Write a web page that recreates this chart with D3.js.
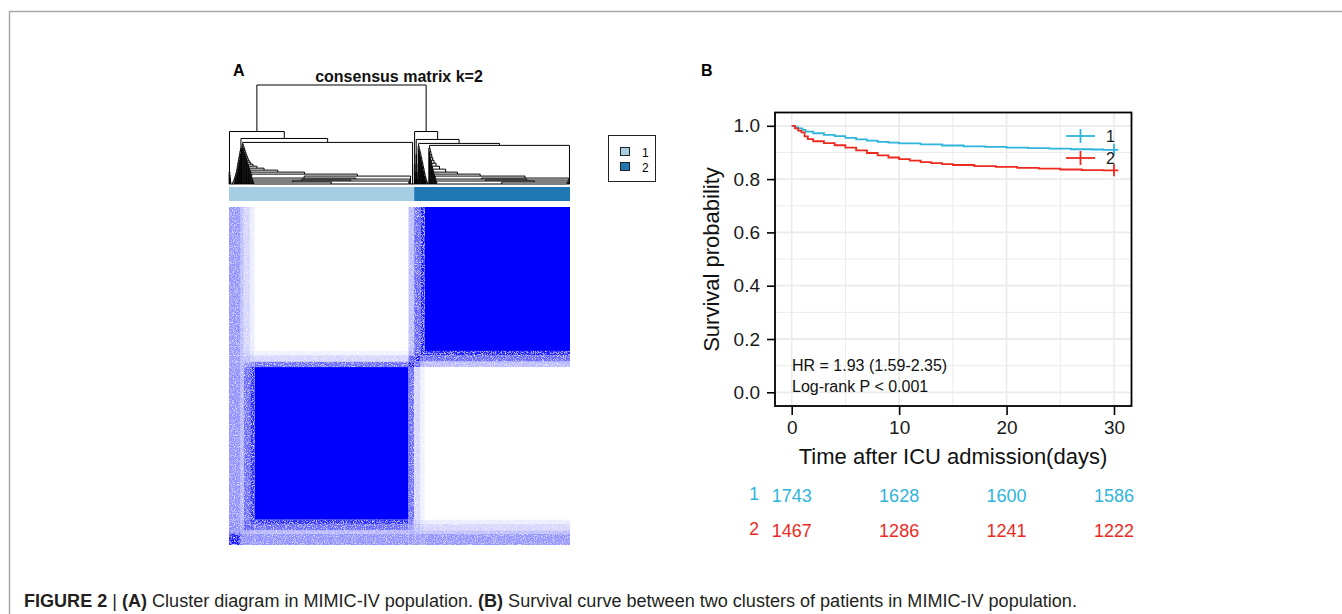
<!DOCTYPE html>
<html>
<head>
<meta charset="utf-8">
<script src="https://cdn.jsdelivr.net/npm/d3@7"></script>
<style>
  body { margin: 0; background: #fff; }
  svg { display: block; font-family: "Liberation Sans", Arial, sans-serif; }
</style>
</head>
<body>
<div id="fig"></div>
<script>
// ---- panel A data ----
var clusterNames = ["1", "2"];
var clusterSizes = [1743, 1467];
var clusterColors = ["#a6cee3", "#1f78b4"];

// consensus blocks in sample order: edge, edge, mixed, mixed, core 1, border 1, border 2, mixed, core 2
var blockSizes = [110, 30, 60, 40, 1450, 53, 60, 40, 1367];
var blockConsensus = [
  [0.90, 0.48, 0.45, 0.44, 0.43, 0.42, 0.40, 0.40, 0.42],
  [0.48, 0.45, 0.36, 0.34, 0.30, 0.32, 0.30, 0.28, 0.27],
  [0.45, 0.36, 0.65, 0.62, 0.58, 0.42, 0.26, 0.20, 0.17],
  [0.44, 0.34, 0.62, 0.85, 0.84, 0.52, 0.20, 0.12, 0.08],
  [0.43, 0.30, 0.58, 0.84, 1.00, 0.58, 0.17, 0.06, 0.00],
  [0.42, 0.32, 0.42, 0.52, 0.58, 0.88, 0.62, 0.32, 0.27],
  [0.40, 0.30, 0.26, 0.20, 0.17, 0.62, 0.88, 0.65, 0.60],
  [0.40, 0.28, 0.20, 0.12, 0.06, 0.32, 0.65, 0.92, 0.88],
  [0.42, 0.27, 0.17, 0.08, 0.00, 0.27, 0.60, 0.88, 1.00]
];

// dendrogram chains: leaf group sizes, merge heights (outermost first), side of the leaf, tail group
var chainE = { sizes: [3, 3, 3, 3], heights: [0.12, 0.09, 0.06, 0.03], sides: "LLLL", tail: 8 };
var chainD1 = { sizes: [5, 5, 5, 5, 5, 5, 5, 5, 5, 5, 5, 5, 5, 5],
  heights: [0.36, 0.33, 0.30, 0.27, 0.24, 0.21, 0.18, 0.15, 0.12, 0.10, 0.08, 0.06, 0.04, 0.02],
  sides: "RRRRRRRRRRRRRR", tail: 30 };
var chainX = { sizes: [6, 6, 6, 6, 6, 6, 6, 6, 6, 6, 6, 6, 6, 6, 6, 8, 8, 6, 8, 6, 8, 6],
  heights: [0.40, 0.38, 0.36, 0.34, 0.32, 0.30, 0.28, 0.26, 0.24, 0.22, 0.20, 0.18, 0.16, 0.14, 0.12, 0.10, 0.08, 0.06, 0.05, 0.04, 0.03, 0.02],
  sides: "LLLLLLLLLLLLLLLLRLRLRL", tail: 1453 };
var border1 = 30;
var chainG = { sizes: [3, 3, 3], heights: [0.20, 0.12, 0.05], sides: "LLL", tail: 6 };
var chainH1 = { sizes: [3, 3, 3, 3], heights: [0.30, 0.20, 0.12, 0.05], sides: "LLLL", tail: 8 };
var chainH = { sizes: [5, 5, 5, 5, 5, 5, 5, 5, 5, 5, 5, 5, 5, 5, 5, 5],
  heights: [0.38, 0.35, 0.33, 0.31, 0.28, 0.26, 0.23, 0.21, 0.18, 0.16, 0.13, 0.11, 0.08, 0.06, 0.04, 0.02],
  sides: "LLLLLLLLLLLLLLLL", tail: 20 };
var chainC2 = { sizes: [6, 6, 6, 6, 6, 6, 6, 6, 6, 6, 8, 8, 6, 8, 6, 8],
  heights: [0.36, 0.33, 0.30, 0.27, 0.24, 0.21, 0.18, 0.15, 0.12, 0.10, 0.08, 0.06, 0.05, 0.04, 0.03, 0.02],
  sides: "LLLLLLLLLLLRLRLR", tail: 1220 };
var lastGroup = 6;
var mergeHeights = { root: 1.0, c1: 0.53, c1b: 0.46, c1c: 0.42, c2: 0.53, c2b: 0.45, c2c: 0.41, c2d: 0.39 };

// ---- panel B data ----
var timeTicks = [0, 10, 20, 30];
var survTicks = [0, 0.2, 0.4, 0.6, 0.8, 1.0];
var groups = ["1", "2"];
var groupColors = ["#2fb4dc", "#ec2a1f"];
var time1 = [0, 0.3, 0.6, 1.0, 1.3, 2, 3, 4, 5, 6, 7, 8, 9, 10, 12, 14, 16, 18, 20, 22, 24, 26, 28, 29, 30.4];
var surv1 = [1.0, 0.995, 0.99, 0.985, 0.978, 0.972, 0.966, 0.961, 0.955, 0.949, 0.944, 0.940, 0.937, 0.934, 0.930, 0.926, 0.923, 0.921, 0.918, 0.916, 0.914, 0.912, 0.911, 0.910, 0.910];
var time2 = [0, 0.3, 0.6, 0.9, 1.2, 1.5, 2, 3, 4, 5, 6, 7, 8, 9, 10, 11, 12, 13, 14, 15, 17, 19, 21, 23, 25, 27, 29, 30.4];
var surv2 = [1.0, 0.99, 0.982, 0.975, 0.96, 0.95, 0.942, 0.935, 0.927, 0.918, 0.908, 0.898, 0.889, 0.881, 0.875, 0.869, 0.864, 0.860, 0.856, 0.853, 0.849, 0.846, 0.842, 0.839, 0.836, 0.834, 0.833, 0.833];
var atRisk1 = [1743, 1628, 1600, 1586];
var atRisk2 = [1467, 1286, 1241, 1222];
var hrText = "HR = 1.93 (1.59-2.35)";
var pText = "Log-rank P < 0.001";

var W = 1342, H = 614;
var svg = d3.select("#fig").append("svg").attr("width", W).attr("height", H);

// frame
svg.append("path").attr("d", "M9.5,614V11.5H1342").attr("fill", "none").attr("stroke", "#a8a8a8").attr("stroke-width", 1.5);

// ================= Panel A =================
var total = d3.sum(clusterSizes);
var xA = d3.scaleLinear().domain([0, total]).range([229, 570]);
var yRow = d3.scaleLinear().domain([0, total]).range([545, 207]);
var fillC = d3.interpolateRgb("#ffffff", "#0000ff");

svg.append("text").attr("x", 233).attr("y", 76).attr("font-weight", "bold").attr("font-size", 16).text("A");
svg.append("text").attr("x", 399).attr("y", 82).attr("text-anchor", "middle").attr("font-weight", "bold")
  .attr("font-size", 16).attr("fill", "#111").text("consensus matrix k=2");

// light speckle texture for the partly-consensual blocks
var filt = svg.append("defs").append("filter").attr("id", "speckle")
  .attr("filterUnits", "userSpaceOnUse").attr("x", 229).attr("y", 207).attr("width", 341).attr("height", 338);
filt.append("feTurbulence").attr("type", "fractalNoise").attr("baseFrequency", 0.9).attr("numOctaves", 2).attr("seed", 4).attr("result", "n");
filt.append("feColorMatrix").attr("in", "n").attr("type", "matrix")
  .attr("values", "0 0 0 0 1  0 0 0 0 1  0 0 0 0 1  2.2 0 0 0 -1.05").attr("result", "w");
filt.append("feComposite").attr("in", "w").attr("in2", "SourceGraphic").attr("operator", "in").attr("result", "wi");
var fm = filt.append("feMerge");
fm.append("feMergeNode").attr("in", "SourceGraphic");
fm.append("feMergeNode").attr("in", "wi");

// heatmap
var starts = [];
blockSizes.reduce(function (a, n) { starts.push(a); return a + n; }, 0);
var cells = [];
blockSizes.forEach(function (ni, i) {
  blockSizes.forEach(function (nj, j) { cells.push({ i: i, j: j, v: blockConsensus[i][j] }); });
});
var hmSolid = svg.append("g"), hmMixed = svg.append("g").attr("filter", "url(#speckle)");
cells.forEach(function (c) {
  var g = (c.v > 0.02 && c.v < 0.95) ? hmMixed : hmSolid;
  g.append("rect")
    .attr("x", xA(starts[c.j])).attr("width", xA(starts[c.j] + blockSizes[c.j]) - xA(starts[c.j]))
    .attr("y", yRow(starts[c.i] + blockSizes[c.i])).attr("height", yRow(starts[c.i]) - yRow(starts[c.i] + blockSizes[c.i]))
    .attr("fill", fillC(c.v));
});

// cluster colour bar
var cStart = 0;
clusterSizes.forEach(function (n, i) {
  svg.append("rect").attr("x", xA(cStart)).attr("width", xA(cStart + n) - xA(cStart))
    .attr("y", 187).attr("height", 14).attr("fill", clusterColors[i]);
  cStart += n;
});

// dendrogram
function chain(c) {
  var node = { n: c.tail };
  for (var i = c.sizes.length - 1; i >= 0; i--) {
    var leaf = { n: c.sizes[i] };
    node = c.sides[i] === "R" ? { h: c.heights[i], c: [node, leaf] } : { h: c.heights[i], c: [leaf, node] };
  }
  return node;
}
var mh = mergeHeights;
var tree = {
  h: mh.root, c: [
    { h: mh.c1, c: [chain(chainE), { h: mh.c1b, c: [chain(chainD1), { h: mh.c1c, c: [chain(chainX), { n: border1 }] }] }] },
    { h: mh.c2, c: [chain(chainG), { h: mh.c2b, c: [chain(chainH1), { h: mh.c2c, c: [chain(chainH), { h: mh.c2d, c: [chain(chainC2), { n: lastGroup }] }] }] }] }
  ]
};
function layout(d, off) {
  if (d.n) { d.s = off; d.x = off + d.n / 2; d.h = 0; return off + d.n; }
  var o = layout(d.c[0], off);
  o = layout(d.c[1], o);
  d.x = (d.c[0].x + d.c[1].x) / 2;
  return o;
}
layout(tree, 0);
var yD = d3.scaleLinear().domain([0, 1]).range([184, 85]);
var links = [], leaves = [];
(function walk(d) {
  if (d.n) { leaves.push(d); return; }
  links.push(d);
  walk(d.c[0]); walk(d.c[1]);
})(tree);
var dg = svg.append("g").attr("fill", "none").attr("stroke", "#000").attr("stroke-width", 1);
dg.selectAll("path.link").data(links).enter().append("path").attr("class", "link")
  .attr("d", function (d) {
    return "M" + xA(d.c[0].x) + "," + yD(d.c[0].h) + "V" + yD(d.h) + "H" + xA(d.c[1].x) + "V" + yD(d.c[1].h);
  });
dg.selectAll("path.leaf").data(leaves.filter(function (d) { return d.n > 1; })).enter().append("path").attr("class", "leaf")
  .attr("d", function (d) { return "M" + xA(d.s) + "," + yD(0) + "H" + xA(d.s + d.n); });

// legend A
var lg = svg.append("g");
lg.append("rect").attr("x", 608.5).attr("y", 135.5).attr("width", 47).attr("height", 46)
  .attr("fill", "#fff").attr("stroke", "#222").attr("stroke-width", 1);
clusterNames.forEach(function (nm, i) {
  lg.append("rect").attr("x", 620.5).attr("y", 147.5 + i * 15).attr("width", 9).attr("height", 8)
    .attr("fill", clusterColors[i]).attr("stroke", "#222").attr("stroke-width", 1);
  lg.append("text").attr("x", 642).attr("y", 156.5 + i * 15).attr("font-size", 12).text(nm);
});

// ================= Panel B =================
svg.append("text").attr("x", 701).attr("y", 76).attr("font-weight", "bold").attr("font-size", 16).text("B");

var pL = 775, pR = 1131.5, pT = 112.5, pB = 406;
var x = d3.scaleLinear().domain([0, 30]).range([791.7, 1114]);
var y = d3.scaleLinear().domain([0, 1]).range([392.3, 125.8]);
var gB = svg.append("g");

// grid
var gridX = d3.range(0, 31, 5), gridY = d3.range(0, 1.01, 0.1);
gB.selectAll("line.gx").data(gridX).enter().append("line")
  .attr("x1", function (d) { return x(d); }).attr("x2", function (d) { return x(d); })
  .attr("y1", pT).attr("y2", pB).attr("stroke", "#ebebeb").attr("stroke-width", function (d) { return d % 10 === 0 ? 1.6 : 1; });
gB.selectAll("line.gy").data(gridY).enter().append("line")
  .attr("y1", function (d) { return y(d); }).attr("y2", function (d) { return y(d); })
  .attr("x1", pL).attr("x2", pR).attr("stroke", "#ebebeb").attr("stroke-width", function (d) { return Math.round(d * 10) % 2 === 0 ? 1.8 : 1; });

// curves
var line = d3.line().x(function (d) { return x(d[0]); }).y(function (d) { return y(d[1]); }).curve(d3.curveStepAfter);
[[time1, surv1], [time2, surv2]].forEach(function (s, i) {
  var pts = d3.zip(s[0], s[1]);
  gB.append("path").attr("d", line(pts)).attr("fill", "none").attr("stroke", groupColors[i]).attr("stroke-width", 1.8);
  var endV = s[1][s[1].length - 1];
  gB.append("line").attr("x1", x(30)).attr("x2", x(30)).attr("y1", y(endV) - 6).attr("y2", y(endV) + 6)
    .attr("stroke", groupColors[i]).attr("stroke-width", 1.8);
});

// in-plot legend
groups.forEach(function (g, i) {
  var ly = 136 + i * 22;
  gB.append("line").attr("x1", 1066).attr("x2", 1095).attr("y1", ly).attr("y2", ly).attr("stroke", groupColors[i]).attr("stroke-width", 1.8);
  gB.append("line").attr("x1", 1080.5).attr("x2", 1080.5).attr("y1", ly - 7).attr("y2", ly + 7).attr("stroke", groupColors[i]).attr("stroke-width", 1.8);
  gB.append("text").attr("x", 1106).attr("y", ly + 6).attr("font-size", 16).attr("fill", "#1a1a1a").text(g);
});

// panel border
gB.append("rect").attr("x", pL).attr("y", pT).attr("width", pR - pL).attr("height", pB - pT)
  .attr("fill", "none").attr("stroke", "#000").attr("stroke-width", 1.8);

// axes
var yAxis = gB.append("g").attr("transform", "translate(" + pL + ",0)")
  .call(d3.axisLeft(y).tickValues(survTicks).tickFormat(d3.format(".1f")).tickSize(8).tickPadding(7));
var xAxis = gB.append("g").attr("transform", "translate(0," + pB + ")")
  .call(d3.axisBottom(x).tickValues(timeTicks).tickSize(9).tickPadding(6));
[yAxis, xAxis].forEach(function (a) {
  a.select(".domain").remove();
  a.selectAll(".tick line").attr("stroke", "#000").attr("stroke-width", 1.6);
  a.selectAll(".tick text").attr("font-size", 19).attr("fill", "#1a1a1a").attr("font-family", "Liberation Sans, Arial, sans-serif");
});

gB.append("text").attr("x", 953).attr("y", 464).attr("text-anchor", "middle").attr("font-size", 22).attr("fill", "#111")
  .text("Time after ICU admission(days)");
gB.append("text").attr("transform", "translate(719,259.5) rotate(-90)").attr("text-anchor", "middle")
  .attr("font-size", 22).attr("fill", "#111").text("Survival probability");

gB.append("text").attr("x", 792).attr("y", 371).attr("font-size", 16).attr("fill", "#111").text(hrText);
gB.append("text").attr("x", 792).attr("y", 392).attr("font-size", 16).attr("fill", "#111").text(pText);

// risk table
[atRisk1, atRisk2].forEach(function (row, i) {
  var by = 502 + i * 35;
  gB.append("text").attr("x", 754).attr("y", by - 2.5).attr("text-anchor", "middle").attr("font-size", 17.5)
    .attr("fill", groupColors[i]).text(groups[i]);
  gB.selectAll(null).data(row).enter().append("text")
    .attr("x", function (d, k) { return x(timeTicks[k]); }).attr("y", by)
    .attr("text-anchor", "middle").attr("font-size", 18).attr("fill", groupColors[i])
    .text(function (d) { return d; });
});

// caption (condensed look: horizontally squeezed to the caption width)
var cap = svg.append("text").attr("x", 0).attr("y", 0).attr("font-size", 18.5).attr("fill", "#231f20");
[["FIGURE 2", true], [" | ", false], ["(A)", true], [" Cluster diagram in MIMIC-IV population. ", false],
 ["(B)", true], [" Survival curve between two clusters of patients in MIMIC-IV population.", false]]
  .forEach(function (p) {
    cap.append("tspan").attr("font-weight", p[1] ? "bold" : "normal").text(p[0]);
  });
var capLen = cap.node().getComputedTextLength();
cap.attr("transform", "translate(24,607) scale(" + (1054 / capLen) + ",1)");
</script>
</body>
</html>
